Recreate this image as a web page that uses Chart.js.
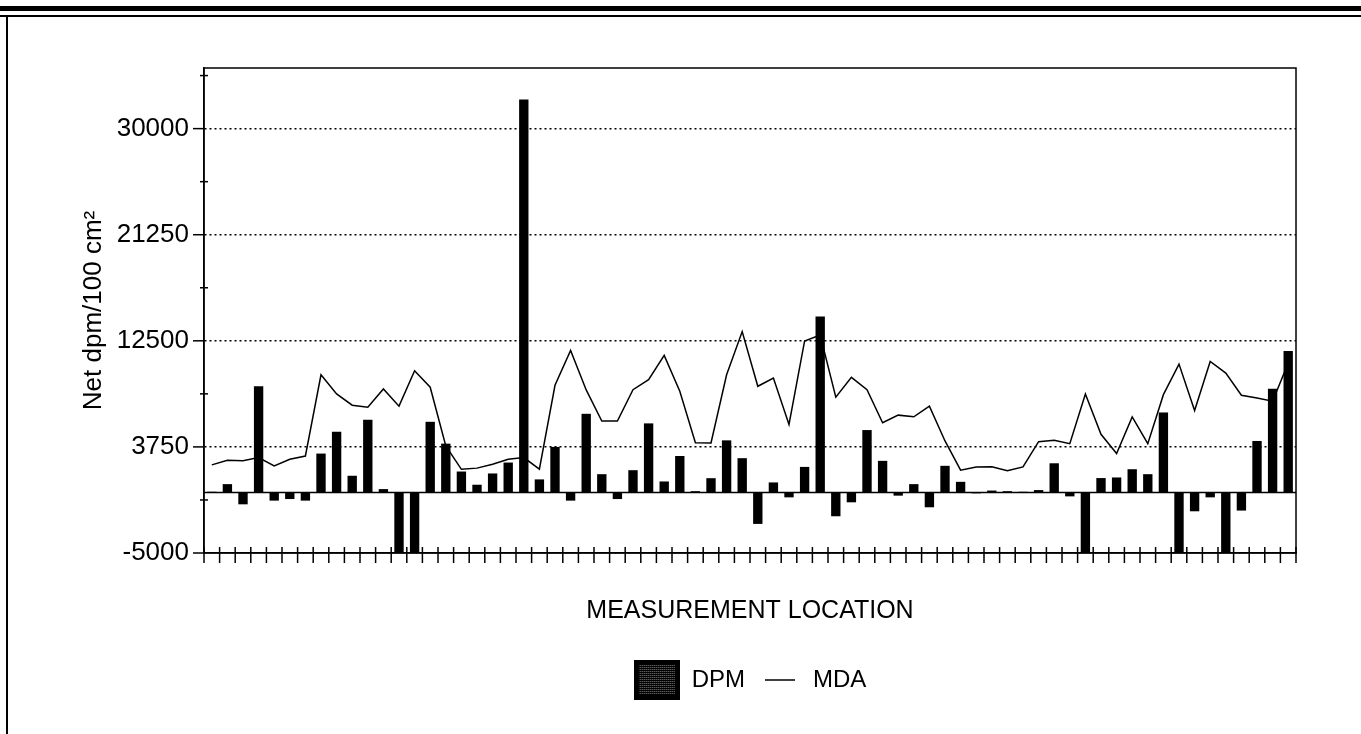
<!DOCTYPE html>
<html>
<head>
<meta charset="utf-8">
<script src="https://cdn.jsdelivr.net/npm/chart.js@4/dist/chart.umd.min.js"></script>
<style>
  html, body { margin: 0; padding: 0; background: #fff; }
  #wrap { position: relative; width: 1361px; height: 734px; overflow: hidden; }
  #chart-dpm { position: absolute; left: 0; top: 0; }
  .rule { position: absolute; background: #000; }
</style>
</head>
<body>
<div id="wrap">
  <div class="rule" style="left:0;top:6px;width:1361px;height:5px"></div>
  <div class="rule" style="left:0;top:15px;width:1361px;height:2px"></div>
  <div class="rule" style="left:6px;top:15px;width:2px;height:719px"></div>
  <canvas id="chart-dpm" width="1361" height="734"></canvas>
</div>
<script>
// measurement locations along the x axis (no labels printed)
const locations = ["1","2","3","4","5","6","7","8","9","10","11","12","13","14","15","16","17","18","19","20",
    "21","22","23","24","25","26","27","28","29","30","31","32","33","34","35","36","37","38","39","40",
    "41","42","43","44","45","46","47","48","49","50","51","52","53","54","55","56","57","58","59","60",
    "61","62","63","64","65","66","67","68","69","70"];

// net dpm/100 cm2 per location
const dpm = [50, 680, -985, 8750, -680, -550, -680, 3200, 5000, 1370,
    5990, 270, -5000, -5000, 5820, 4020, 1720, 630, 1560, 2460,
    32400, 1070, 3750, -680, 6480, 1500, -550, 1830, 5690, 900,
    3000, 100, 1170, 4290, 2820, -2600, 820, -410, 2100, 14500,
    -1970, -820, 5140, 2600, -270, 680, -1230, 2190, 870, -80,
    150, 100, 50, 190, 2400, -330, -5000, 1180, 1230, 1910,
    1500, 6590, -5000, -1560, -410, -5000, -1500, 4240, 8550, 11670];

// minimum detectable activity per location
const mda = [2270, 2650, 2600, 2870, 2190, 2730, 3000, 9700, 8120, 7190,
    7030, 8530, 7110, 10030, 8670, 3830, 1900, 2000, 2320, 2730,
    2870, 1910, 8830, 11700, 8450, 5880, 5880, 8470, 9290, 11300,
    8340, 4100, 4070, 9700, 13260, 8750, 9430, 5600, 12490, 12980,
    7850, 9490, 8470, 5740, 6370, 6230, 7110, 4240, 1830, 2100,
    2120, 1780, 2100, 4180, 4290, 4020, 8120, 4790, 3200, 6230,
    4020, 8060, 10580, 6750, 10800, 9840, 8010, 7790, 7520, 10660];

const yTicks = [-5000, -625, 3750, 8125, 12500, 16875, 21250, 25625, 30000, 34375];
const yLabeled = [-5000, 3750, 12500, 21250, 30000];

Chart.defaults.font.family = '"Liberation Sans", Arial, sans-serif';
Chart.defaults.color = "#000";

// legend icons
function boxIcon() {
    const c = document.createElement("canvas");
    c.width = 46; c.height = 40;
    const g = c.getContext("2d");
    g.fillStyle = "#000";
    g.fillRect(0, 0, 46, 40);
    g.fillStyle = "#808080";
    for (let yy = 5; yy < 35; yy += 2) {
        for (let xx = 5 + ((yy / 2) % 2 ? 1 : 0); xx < 41; xx += 2) g.fillRect(xx, yy, 1, 1);
    }
    return c;
}
function lineIcon() {
    const c = document.createElement("canvas");
    c.width = 46; c.height = 4;
    const g = c.getContext("2d");
    g.strokeStyle = "#000";
    g.lineWidth = 1.5;
    g.beginPath(); g.moveTo(10, 2); g.lineTo(40, 2); g.stroke();
    return c;
}
const icons = [boxIcon(), lineIcon()];

// frame, zero line and the small crossing tick marks
const axisMarks = {
    id: "axisMarks",
    afterDatasetsDraw(chart) {
        const {ctx, chartArea: a, scales: {x, y}} = chart;
        const seg = (x1, y1, x2, y2) => { ctx.beginPath(); ctx.moveTo(x1, y1); ctx.lineTo(x2, y2); ctx.stroke(); };
        ctx.save();
        ctx.strokeStyle = "#000";
        ctx.lineWidth = 1.5;
        ctx.setLineDash([]);
        const y0 = y.getPixelForValue(0);
        seg(a.left, y0, a.right, y0);
        ctx.strokeRect(a.left, a.top, a.width, a.height);
        y.ticks.forEach(t => {
            const py = y.getPixelForValue(t.value);
            if (yLabeled.includes(t.value)) seg(a.left - 11, py, a.left, py);
            else seg(a.left - 4, py, a.left + 4, py);
        });
        const step = x.width / locations.length;
        for (let i = 0; i <= locations.length; i++) {
            const px = x.left + i * step;
            seg(px, a.bottom - 6, px, a.bottom + 10);
        }
        ctx.restore();
    }
};

const config = {
    type: "bar",
    data: {
        labels: locations,
        datasets: [
            {
                label: "DPM",
                data: dpm,
                backgroundColor: "#000",
                borderWidth: 0,
                barPercentage: 0.6,
                categoryPercentage: 1.0,
            },
            {
                type: "line",
                label: "MDA",
                data: mda,
                borderColor: "#000",
                backgroundColor: "#000",
                borderWidth: 1.5,
                pointRadius: 0,
                tension: 0,
                fill: false,
            },
        ],
    },
    options: {
        responsive: false,
        animation: false,
        layout: { padding: { left: 78, right: 65, top: 68, bottom: 32 } },
        plugins: {
            tooltip: { enabled: false },
            legend: {
                position: "bottom",
                fullSize: false,
                labels: {
                    usePointStyle: true,
                    pointStyleWidth: 46,
                    padding: 10,
                    color: "#000",
                    font: { size: 24 },
                    generateLabels: chart => {
                        const items = Chart.defaults.plugins.legend.labels.generateLabels(chart);
                        items.forEach((it, i) => { it.pointStyle = icons[i]; });
                        return items;
                    },
                },
            },
        },
        scales: {
            x: {
                offset: true,
                grid: { display: false, offset: true },
                ticks: { display: false },
                border: { display: true, color: "#000", width: 1.5 },
                title: {
                    display: true,
                    text: "MEASUREMENT LOCATION",
                    font: { size: 25 },
                    color: "#000",
                    padding: { top: 0, bottom: 32 },
                },
                afterFit: s => { s.height = 105; },
            },
            y: {
                min: -5000,
                max: 35000,
                afterBuildTicks: s => { s.ticks = yTicks.map(v => ({ value: v })); },
                ticks: {
                    autoSkip: false,
                    padding: 15,
                    font: { size: 26 },
                    color: "#000",
                    callback: v => (yLabeled.includes(v) ? String(v) : ""),
                },
                grid: {
                    drawTicks: false,
                    lineWidth: 1.5,
                    color: c => (c.tick && yLabeled.includes(c.tick.value) && c.tick.value > -5000 ? "#000" : "rgba(0,0,0,0)"),
                },
                border: { display: true, color: "#000", width: 1.5, dash: [2, 3] },
                title: {
                    display: true,
                    text: "Net dpm/100 cm²",
                    font: { size: 26 },
                    color: "#000",
                    padding: { top: 0, bottom: 0 },
                },
                afterFit: s => { s.width = 126; },
            },
        },
    },
    plugins: [axisMarks],
};

const canvas = document.getElementById("chart-dpm");
const chart = new Chart(canvas, config);
</script>
</body>
</html>
